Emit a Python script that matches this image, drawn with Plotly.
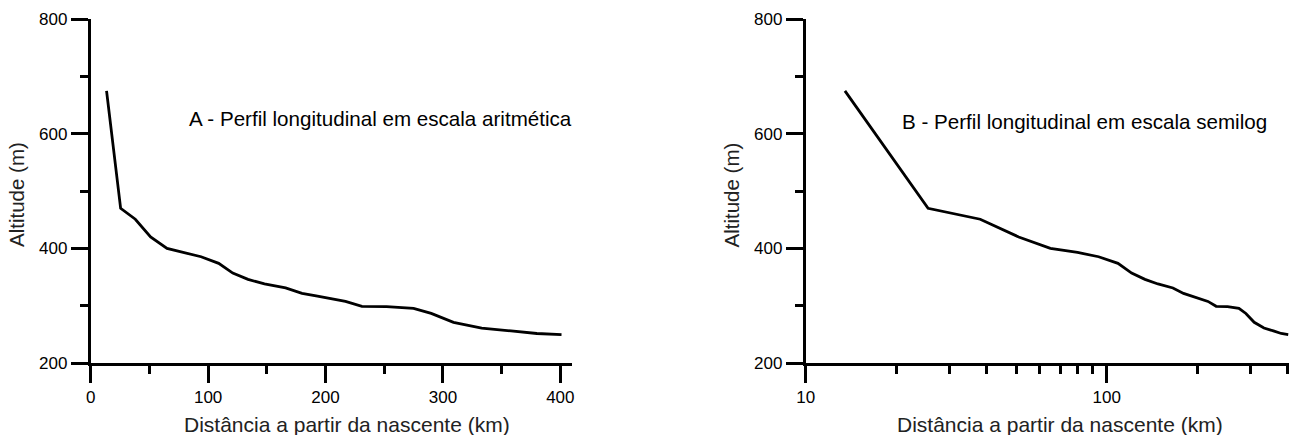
import math
import plotly.graph_objects as go

# ---- data ----
dist_km = [13.5, 25.5, 38, 51, 65, 80, 94, 109, 121, 134, 148, 166, 180, 192, 203,
           217, 231, 252, 275, 290, 309, 333, 358, 380, 401]
altitude_m = [675, 470, 451, 420, 400, 393, 385.5, 374, 357, 346, 338, 331, 321.5, 317,
              312.5, 307.5, 299, 298.5, 295.5, 286.5, 271, 261, 256, 251.5, 249.5]

y_tickvals = [200, 400, 600, 800]
x_tickvals_arith = [0, 100, 200, 300, 400]
x_tickvals_log = [10, 100]
x_minor_log = [20, 30, 40, 50, 60, 70, 80, 90, 200, 300, 400]

label_a = "A - Perfil longitudinal em escala aritmética"
label_b = "B - Perfil longitudinal em escala semilog"
x_title = "Distância a partir da nascente (km)"
y_title = "Altitude (m)"

W, H = 1295, 435
FONT = "Liberation Sans, Arial, sans-serif"
LW = 2.8

fig = go.Figure()
fig.add_trace(go.Scatter(x=dist_km, y=altitude_m, mode="lines",
                         line=dict(color="black", width=LW),
                         xaxis="x", yaxis="y", showlegend=False))
fig.add_trace(go.Scatter(x=dist_km, y=altitude_m, mode="lines",
                         line=dict(color="black", width=LW),
                         xaxis="x2", yaxis="y2", showlegend=False))

common = dict(showline=True, linecolor="black", linewidth=LW, ticks="outside",
              ticklen=17, tickwidth=LW, tickcolor="black", showgrid=False,
              zeroline=False, automargin=False,
              tickfont=dict(family=FONT, size=17, color="black"))
minor_common = dict(ticks="outside", ticklen=8, tickwidth=LW, tickcolor="black",
                    showgrid=False)
title_font = dict(family=FONT, size=21, color="#222")
ytitle_font = dict(family=FONT, size=20.5, color="#222")

ydom = [(H - 363) / H, (H - 19.3) / H]


def px_x(p):
    return p / W


def px_y(p):
    return 1 - p / H


fig.update_layout(
    width=W, height=H,
    margin=dict(l=0, r=0, t=0, b=0),
    paper_bgcolor="white", plot_bgcolor="white",
    font=dict(family=FONT, color="black"),
    xaxis=dict(domain=[90.7 / W, 571.5 / W], range=[0, 409.5],
               tickvals=x_tickvals_arith, anchor="y",
               minor=dict(dtick=50, tick0=0, **minor_common), **common),
    yaxis=dict(domain=ydom, range=[200, 800], tickvals=y_tickvals, anchor="x",
               minor=dict(dtick=100, tick0=0, **minor_common), **common),
    xaxis2=dict(domain=[805.7 / W, 1288.9 / W], type="log",
                range=[1, math.log10(403)], tickvals=x_tickvals_log,
                ticktext=[str(v) for v in x_tickvals_log], anchor="y2",
                minor=dict(tickvals=x_minor_log, **minor_common), **common),
    yaxis2=dict(domain=ydom, range=[200, 800], tickvals=y_tickvals, anchor="x2",
                minor=dict(dtick=100, tick0=0, **minor_common), **common),
    annotations=[
        dict(text=label_a, x=82, y=626, xref="x", yref="y", xanchor="left",
             yanchor="middle", showarrow=False,
             font=dict(family=FONT, size=20.6, color="black")),
        dict(text=label_b, x=math.log10(20.6), y=621, xref="x2", yref="y2",
             xanchor="left", yanchor="middle", showarrow=False,
             font=dict(family=FONT, size=20.6, color="black")),
        # axis titles
        dict(text=x_title, x=px_x(347), y=px_y(424), xref="paper", yref="paper",
             xanchor="center", yanchor="middle", showarrow=False, font=title_font),
        dict(text=x_title, x=px_x(1060), y=px_y(424), xref="paper", yref="paper",
             xanchor="center", yanchor="middle", showarrow=False, font=title_font),
        dict(text=y_title, x=px_x(16), y=px_y(195), xref="paper", yref="paper",
             xanchor="center", yanchor="middle", textangle=-90, showarrow=False,
             font=ytitle_font),
        dict(text=y_title, x=px_x(730.5), y=px_y(195), xref="paper", yref="paper",
             xanchor="center", yanchor="middle", textangle=-90, showarrow=False,
             font=ytitle_font),
    ],
)

fig.write_html("out.html",
               config={"displayModeBar": False},
               post_script="document.body.style.margin='0px';"
                           "document.body.style.overflow='hidden';")
